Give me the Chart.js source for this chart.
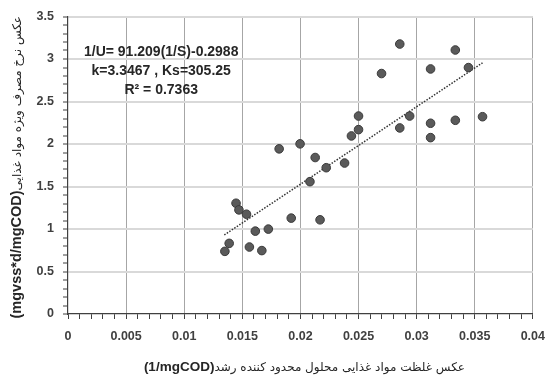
<!DOCTYPE html>
<html>
<head>
<meta charset="utf-8">
<script src="https://cdn.jsdelivr.net/npm/chart.js@4/dist/chart.umd.min.js"></script>
<style>
html,body{margin:0;padding:0;background:#fff;}
canvas{display:block;}
</style>
</head>
<body>
<canvas id="c" width="555" height="376"></canvas>
<script>
// ---- data ----
const xValues = [0.0135,0.01387,0.01446,0.01471,0.01536,0.01561,0.01612,0.01668,0.01724,0.01817,0.01921,0.01997,0.02082,0.02127,0.02169,0.02222,0.0238,0.02439,0.0250,0.0250,0.02698,0.02855,0.02855,0.0294,0.0312,0.0312,0.0312,0.03333,0.03333,0.03446,0.03567];
const yValues = [0.737,0.831,1.303,1.225,1.174,0.788,0.975,0.746,0.999,1.943,1.128,2.002,1.557,1.841,1.108,1.721,1.776,2.095,2.169,2.329,2.829,2.189,3.176,2.329,2.244,2.075,2.883,2.279,3.106,2.899,2.321];
const trendX = [0.01345, 0.03567];
const trendY = [0.93, 2.955];
const xTickLabels = ['0','0.005','0.01','0.015','0.02','0.025','0.03','0.035','0.04'];
const yTickLabels = ['0','0.5','1','1.5','2','2.5','3','3.5'];
const xMajorStep = 0.005, xMinorPerMajor = 5;
const yMajorStep = 0.5, yMinorPerMajor = 5;
const annotationLines = ['1/U= 91.209(1/S)-0.2988','k=3.3467 , Ks=305.25','R\u00B2 = 0.7363'];
const annotationPos = {x: 0.00802, y: [3.08, 2.856, 2.63]};
const xTitleLatin = '(1/mgCOD)';
const xTitlePersian = 'عکس غلظت مواد غذایی محلول محدود کننده رشد';
const yTitleLatin = '(mgvss*d/mgCOD)';
const yTitlePersian = 'عکس نرخ مصرف ویژه مواد غذایی';

const scatterData = xValues.map((x,i)=>({x:x, y:yValues[i]}));
const trendData = trendX.map((x,i)=>({x:x, y:trendY[i]}));

function buildTicks(labels, majorStep, perMajor){
  const out = [];
  const n = (labels.length-1)*perMajor;
  for(let i=0;i<=n;i++){ out.push({value: +(i*majorStep/perMajor).toFixed(6)}); }
  return out;
}

const LATIN = '"Liberation Sans", Arial, sans-serif';
const ARABIC = '"DejaVu Sans", sans-serif';

function drawMixed(ctx, parts, cx, cy, rot){
  ctx.save();
  ctx.translate(cx, cy);
  if(rot) ctx.rotate(rot);
  ctx.textBaseline = 'middle';
  ctx.textAlign = 'left';
  ctx.direction = 'ltr';
  let total = 0;
  const widths = parts.map(p=>{ ctx.font = p.font; const w = ctx.measureText(p.text).width; total += w; return w; });
  let x = -total/2;
  parts.forEach((p,i)=>{ ctx.font = p.font; ctx.fillStyle = p.color; ctx.fillText(p.text, x, p.dy||0); x += widths[i]; });
  ctx.restore();
}

const textPlugin = {
  id: 'texts',
  afterDraw(chart){
    const ctx = chart.ctx;
    const xs = chart.scales.x, ys = chart.scales.y;
    const ca = chart.chartArea;
    ctx.save();
    ctx.font = 'bold 14px ' + LATIN;
    ctx.fillStyle = '#262626';
    ctx.textAlign = 'center';
    ctx.textBaseline = 'middle';
    annotationLines.forEach((t,i)=>{
      ctx.fillText(t, xs.getPixelForValue(annotationPos.x), ys.getPixelForValue(annotationPos.y[i]));
    });
    ctx.restore();
    drawMixed(ctx, [
      {text: xTitleLatin, font: 'bold 13.5px ' + LATIN, color: '#262626'},
      {text: xTitlePersian, font: '12px ' + ARABIC, color: '#262626', dy: 1}
    ], (ca.left+ca.right)/2 + 4, 367, 0);
    drawMixed(ctx, [
      {text: yTitleLatin, font: 'bold 14.5px ' + LATIN, color: '#262626'},
      {text: yTitlePersian, font: '12px ' + ARABIC, color: '#262626', dy: 1}
    ], 17, (ca.top+ca.bottom)/2 + 2, -Math.PI/2);
  }
};

new Chart(document.getElementById('c'), {
  type: 'scatter',
  data: {
    datasets: [
      {
        type: 'line',
        data: trendData,
        borderColor: '#333333',
        borderWidth: 1.5,
        borderDash: [1.5, 1.5],
        pointRadius: 0,
        fill: false,
        order: 1
      },
      {
        data: scatterData,
        backgroundColor: '#5a5a5a',
        borderColor: '#3a3a3a',
        borderWidth: 1,
        pointRadius: 4.3,
        order: 0
      }
    ]
  },
  options: {
    responsive: false,
    animation: false,
    devicePixelRatio: 1,
    layout: {padding: {top: 15, right: 13, left: 0, bottom: 0}},
    plugins: {legend: {display: false}, tooltip: {enabled: false}},
    scales: {
      x: {
        type: 'linear',
        min: 0, max: 0.04,
        afterBuildTicks: s => { s.ticks = buildTicks(xTickLabels, xMajorStep, xMinorPerMajor); },
        afterFit: s => { s.height = 62; },
        ticks: {
          autoSkip: false, maxRotation: 0, padding: 10,
          color: '#404040',
          font: {family: LATIN, size: 12.5, weight: 'bold'},
          callback: (v, i) => (i % xMinorPerMajor === 0 ? xTickLabels[i / xMinorPerMajor] : '')
        },
        grid: {
          color: c => (c.index % xMinorPerMajor === 0 && c.index !== 0 ? '#a6a6a6' : 'rgba(0,0,0,0)'),
          tickColor: '#404040',
          lineWidth: 1,
          tickWidth: 1,
          tickLength: 5
        },
        border: {color: '#404040', width: 1.2}
      },
      y: {
        type: 'linear',
        min: 0, max: 3.5,
        afterBuildTicks: s => { s.ticks = buildTicks(yTickLabels, yMajorStep, yMinorPerMajor); },
        afterFit: s => { s.width = 68; },
        ticks: {
          autoSkip: false, padding: 9,
          color: '#404040',
          font: {family: LATIN, size: 12.5, weight: 'bold'},
          callback: (v, i) => (i % yMinorPerMajor === 0 ? yTickLabels[i / yMinorPerMajor] : '')
        },
        grid: {
          color: c => (c.index % yMinorPerMajor === 0 && c.index !== 0 ? '#d9d9d9' : 'rgba(0,0,0,0)'),
          tickColor: '#404040',
          lineWidth: 2,
          tickWidth: 1,
          tickLength: 5
        },
        border: {color: '#404040', width: 1.2}
      }
    }
  },
  plugins: [textPlugin]
});
</script>
</body>
</html>
